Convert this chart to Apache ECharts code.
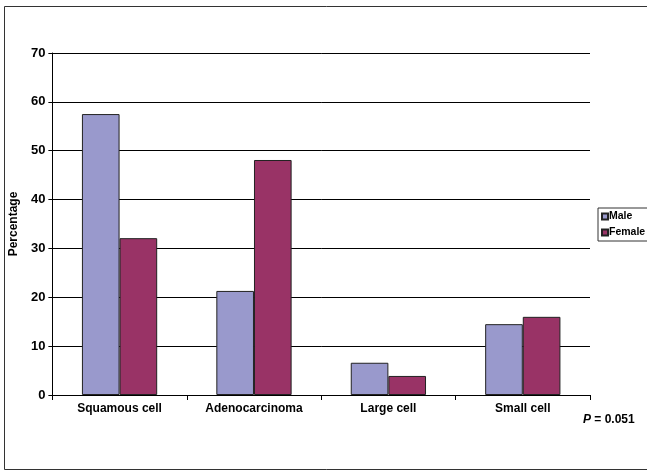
<!DOCTYPE html>
<html>
<head>
<meta charset="utf-8">
<script src="https://cdn.jsdelivr.net/npm/echarts@6/dist/echarts.min.js"></script>
<style>
  html, body { margin: 0; padding: 0; background: #fff; }
  #chart { width: 647px; height: 472px; }
</style>
</head>
<body>
<div id="chart"></div>
<script>
  // categories and values
  let categories = ['Squamous cell', 'Adenocarcinoma', 'Large cell', 'Small cell']
  let maleValues = [57.5, 21.3, 6.6, 14.5]
  let femaleValues = [32.1, 48.1, 3.9, 16.0]
  let yTicks = [0, 10, 20, 30, 40, 50, 60, 70]

  let font = 'Liberation Sans, Arial, sans-serif'
  let chart = echarts.init(document.getElementById('chart'))

  chart.setOption({
    animation: false,
    textStyle: {fontFamily: font},
    grid: {
      left: 42,
      right: 57,
      top: 53,
      bottom: 77,
      containLabel: false
    },
    graphic: [
      {
        // outer frame
        type: 'rect',
        shape: {x: 4.5, y: 6.5, width: 700, height: 463},
        style: {fill: 'none', stroke: '#333', lineWidth: 1},
        silent: true
      },
      {
        type: 'text',
        left: 583,
        top: 414,
        style: {
          rich: {
            p: {fontStyle: 'italic', fontWeight: 'bold', fontSize: 12, fontFamily: font},
            t: {fontWeight: 'bold', fontSize: 12, fontFamily: font}
          },
          text: '{p|P}{t| = 0.051}',
          fill: '#000'
        }
      }
    ],
    legend: {
      orient: 'vertical',
      left: 598,
      top: 208,
      itemWidth: 6,
      itemHeight: 6,
      itemGap: 5,
      padding: [3, 3, 3, 3],
      borderColor: '#333',
      borderWidth: 1,
      icon: 'rect',
      textStyle: {fontSize: 10.5, fontWeight: 'bold', color: '#000', fontFamily: font, padding: [0, 0, 0, -4]},
      data: ['Male', 'Female']
    },
    xAxis: {
      type: 'category',
      data: categories,
      axisLine: {lineStyle: {color: '#000'}},
      axisTick: {show: true, length: 5, alignWithLabel: false, lineStyle: {color: '#000'}},
      axisLabel: {
        fontSize: 12,
        fontWeight: 'bold',
        color: '#000',
        margin: 8,
        fontFamily: font
      }
    },
    yAxis: {
      type: 'value',
      min: 0,
      max: 70,
      interval: 10,
      name: 'Percentage',
      nameLocation: 'middle',
      nameGap: 26,
      nameTextStyle: {fontSize: 12, fontWeight: 'bold', color: '#000', fontFamily: font},
      axisLine: {show: true, lineStyle: {color: '#000'}},
      axisTick: {show: true, length: 4, lineStyle: {color: '#000'}},
      axisLabel: {
        fontSize: 13,
        fontWeight: 'bold',
        color: '#000',
        margin: 7,
        fontFamily: font,
        customValues: yTicks
      },
      splitLine: {show: true, lineStyle: {color: '#000', width: 1}}
    },
    series: [
      {
        name: 'Male',
        type: 'bar',
        data: maleValues,
        barGap: '0%',
        barCategoryGap: '44%',
        itemStyle: {color: '#9999cc', borderColor: '#222', borderWidth: 1}
      },
      {
        name: 'Female',
        type: 'bar',
        data: femaleValues,
        itemStyle: {color: '#993366', borderColor: '#222', borderWidth: 1}
      }
    ]
  })
</script>
</body>
</html>
